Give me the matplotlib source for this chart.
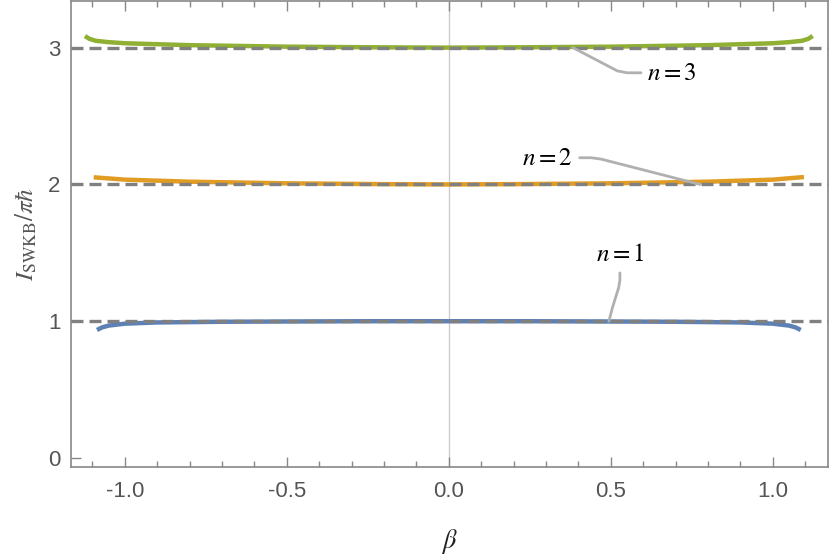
import numpy as np
import matplotlib
matplotlib.use("Agg")
import matplotlib.pyplot as plt
from matplotlib.ticker import MultipleLocator

# -------- Data --------
beta_n1 = [-1.086, -1.07, -1.05, -1.0, -0.9, -0.7, -0.5, -0.25, 0.0,
           0.25, 0.5, 0.7, 0.9, 1.0, 1.05, 1.07, 1.086]
swkb_n1 = [0.936, 0.955, 0.968, 0.982, 0.991, 0.996, 0.998, 1.0, 1.0,
           1.0, 0.998, 0.996, 0.991, 0.982, 0.968, 0.955, 0.936]

beta_n2 = [-1.096, -1.0, -0.8, -0.5, -0.2, 0.0, 0.2, 0.5, 0.8, 1.0, 1.096]
swkb_n2 = [2.052, 2.035, 2.02, 2.008, 2.002, 2.0, 2.002, 2.008, 2.02, 2.035, 2.054]

beta_n3 = [-1.123, -1.11, -1.09, -1.05, -1.0, -0.8, -0.5, -0.2, 0.0,
           0.2, 0.5, 0.8, 1.0, 1.05, 1.09, 1.11, 1.123]
swkb_n3 = [3.085, 3.065, 3.05, 3.04, 3.032, 3.018, 3.007, 3.002, 3.0,
           3.002, 3.007, 3.018, 3.032, 3.04, 3.05, 3.065, 3.085]

exact_levels = [1, 2, 3]
series_labels = ["$n{=}1$", "$n{=}2$", "$n{=}3$"]

colors = ["#5E81B5", "#E19C24", "#8FB032"]

# callouts: (text x, text y), path from text to curve
callouts = [
    ((0.528, 1.49), [(0.528, 1.353), (0.528, 1.30), (0.524, 1.244), (0.505, 1.10), (0.494, 1.0)]),
    ((0.305, 2.195), [(0.404, 2.195), (0.44, 2.195), (0.47, 2.185), (0.775, 2.0)]),
    ((0.688, 2.816), [(0.593, 2.816), (0.55, 2.816), (0.52, 2.83), (0.383, 3.0)]),
]

plt.rcParams["mathtext.fontset"] = "stix"

fig = plt.figure(figsize=(8.3, 5.58), dpi=100)
ax = fig.add_axes([0.086, 0.163, 0.9115, 0.835])

frame_col = "#888888"
ax.axvline(0.0, color="#cccccc", lw=1.0, zorder=1)

for xs, ys, c in zip([beta_n1, beta_n2, beta_n3], [swkb_n1, swkb_n2, swkb_n3], colors):
    ax.plot(xs, ys, color=c, lw=3.2, solid_capstyle="butt", zorder=2)

for lvl in exact_levels:
    ax.axhline(lvl, color="#808080", lw=2.4, ls=(0, (3.6, 1.8)), zorder=3)

for lab, ((tx, ty), path) in zip(series_labels, callouts):
    px, py = zip(*path)
    ax.plot(px, py, color="#b0b0b0", lw=2.0, zorder=4, solid_capstyle="round")
    ax.text(tx, ty, lab, fontsize=18, ha="center", va="center", zorder=5)

ax.set_xlim(-1.165, 1.17)
ax.set_ylim(-0.066, 3.34)
ax.xaxis.set_major_locator(MultipleLocator(0.5))
ax.xaxis.set_minor_locator(MultipleLocator(0.1))
ax.set_yticks([0, 1, 2, 3])
ax.xaxis.set_major_formatter(matplotlib.ticker.FormatStrFormatter("%.1f"))

ax.tick_params(axis="x", which="both", direction="in", top=True, bottom=True,
               color=frame_col, labelcolor="#555555", labelsize=16, pad=10)
ax.tick_params(axis="x", which="major", length=7, width=1)
ax.tick_params(axis="x", which="minor", length=4, width=1)
ax.tick_params(axis="y", which="both", direction="in", left=True, right=False,
               length=7, width=1, color=frame_col, labelcolor="#555555",
               labelsize=16, pad=8)
for lbl in ax.get_xticklabels() + ax.get_yticklabels():
    lbl.set_family(["Liberation Sans Narrow", "Liberation Sans", "DejaVu Sans"])

for s in ax.spines.values():
    s.set_color(frame_col)
    s.set_linewidth(1.2)

ax.set_xlabel(r"$\beta$", fontsize=19, color="#222222", labelpad=18)
ax.set_ylabel(r"$I_{\mathrm{SWKB}}/\pi\hbar$", fontsize=18, color="#555555", labelpad=6)

fig.savefig("out.png", dpi=100)
